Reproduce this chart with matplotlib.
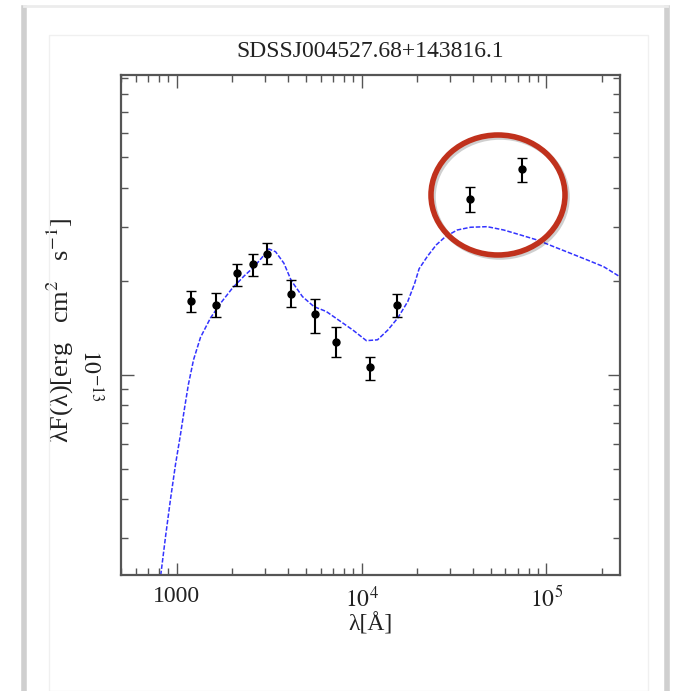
import matplotlib
matplotlib.use("Agg")
import matplotlib.pyplot as plt
from matplotlib.patches import Ellipse, Rectangle
from matplotlib.lines import Line2D
from matplotlib.ticker import FixedLocator, NullFormatter

plt.rcParams['font.family'] = 'serif'
plt.rcParams['font.serif'] = ['Liberation Serif', 'DejaVu Serif']
plt.rcParams['mathtext.fontset'] = 'stix'

title = 'SDSSJ004527.68+143816.1'

# photometric points (wavelength in Angstrom, lambda F_lambda)
wave = [1201, 1625, 2129, 2598, 3065, 4132, 5619, 7300, 11089, 15460, 38500, 74200]
flux = [1.729e-13, 1.679e-13, 2.123e-13, 2.270e-13, 2.449e-13, 1.828e-13,
        1.571e-13, 1.280e-13, 1.059e-13, 1.679e-13, 3.673e-13, 4.585e-13]
flux_lo = [1.597e-13, 1.533e-13, 1.932e-13, 2.086e-13, 2.270e-13, 1.651e-13,
           1.362e-13, 1.145e-13, 0.964e-13, 1.540e-13, 3.351e-13, 4.183e-13]
flux_hi = [1.863e-13, 1.831e-13, 2.270e-13, 2.449e-13, 2.652e-13, 2.013e-13,
           1.755e-13, 1.423e-13, 1.145e-13, 1.822e-13, 4.032e-13, 4.996e-13]

# model SED
model_wave = [820, 872, 927, 986, 1049, 1102, 1157, 1234, 1346, 1527,
              1752, 2000, 2311, 2617, 2905, 3155, 3428, 3802, 4170, 4790,
              5530, 6440, 7600, 8980, 10620, 12200, 13870, 15700, 17780, 19340,
              20480, 22760, 25400, 28450, 32920, 38840, 47800, 58760, 72350,
              89060, 109500, 134800, 165960, 204000, 251200]
model_flux = [2.275e-14, 3.05e-14, 4.01e-14, 5.17e-14, 6.45e-14, 7.80e-14,
              9.32e-14, 1.120e-13, 1.322e-13, 1.529e-13, 1.719e-13, 1.901e-13,
              2.078e-13, 2.224e-13, 2.392e-13, 2.541e-13, 2.490e-13, 2.287e-13,
              2.010e-13, 1.787e-13, 1.659e-13, 1.601e-13, 1.495e-13, 1.395e-13,
              1.290e-13, 1.298e-13, 1.395e-13, 1.525e-13, 1.723e-13, 1.963e-13,
              2.195e-13, 2.411e-13, 2.622e-13, 2.784e-13, 2.924e-13, 2.984e-13,
              2.997e-13, 2.924e-13, 2.819e-13, 2.716e-13, 2.585e-13, 2.462e-13,
              2.344e-13, 2.229e-13, 2.065e-13]

W, H = 682, 691
fig = plt.figure(figsize=(W / 100, H / 100), dpi=100)

# slide card look
fig.add_artist(Line2D([24 / W, 24 / W], [0, 1 - 8 / H], transform=fig.transFigure,
                      color='#cfcfcf', lw=4))
fig.add_artist(Line2D([667 / W, 667 / W], [0, 1 - 8 / H], transform=fig.transFigure,
                      color='#cfcfcf', lw=4))
fig.add_artist(Line2D([24 / W, 667 / W], [1 - 6 / H, 1 - 6 / H], transform=fig.transFigure,
                      color='#ececec', lw=2))
fig.add_artist(Rectangle((49 / W, 0), 599 / W, 1 - 35 / H, transform=fig.transFigure,
                         fill=False, ec='#f0f0f0', lw=1))

ax = fig.add_axes([121 / W, 1 - 575 / H, 499 / W, 500 / H])
ax.set_xscale('log')
ax.set_yscale('log')
ax.set_xlim(500, 2.5e5)
ax.set_ylim(2.28e-14, 9.2e-13)

ax.plot(model_wave, model_flux, color='#3333ff', lw=1.1, ls=(0, (3, 1.2)))

yerr = [[f - lo for f, lo in zip(flux, flux_lo)], [hi - f for f, hi in zip(flux, flux_hi)]]
ax.errorbar(wave, flux, yerr=yerr, fmt='o', color='black', ms=5, elinewidth=1.5,
            capsize=3.5, capthick=1)

for s in ax.spines.values():
    s.set_color('#555555')
    s.set_linewidth(1.6)

ax.xaxis.set_major_locator(FixedLocator([1000, 1e4, 1e5]))
ax.set_xticklabels(['1000', '$10^4$', '$10^5$'])
ax.xaxis.set_minor_formatter(NullFormatter())
ax.yaxis.set_major_locator(FixedLocator([1e-13]))
ax.set_yticklabels(['$10^{-13}$'], rotation=270, va='center')
ax.yaxis.set_minor_formatter(NullFormatter())
ax.tick_params(which='both', direction='in', top=True, right=True, color='#555555',
               labelsize=17, labelcolor='#222222')
ax.tick_params(which='major', length=9, width=1)
ax.tick_params(which='minor', length=5, width=1)
ax.tick_params(axis='x', pad=8)
ax.tick_params(axis='y', pad=13)

ax.set_title(title, fontsize=17, color='#222222', pad=13)
ax.set_xlabel('λ[Å]', fontsize=17, color='#222222', labelpad=1)
ax.set_ylabel('λF(λ)[erg   cm$^2$   s$^{-1}$]', fontsize=19, color='#222222')
ax.yaxis.set_label_coords(-0.09, 0.49)

# highlight around the infrared points
fig.add_artist(Ellipse((500 / W, 1 - 197 / H), 134 / W, 120 / H, transform=fig.transFigure,
                       fill=False, ec='#00000030', lw=4))
fig.add_artist(Ellipse((498 / W, 1 - 195 / H), 134 / W, 120 / H, transform=fig.transFigure,
                       fill=False, ec='#c0311c', lw=4))

fig.savefig('out.png', dpi=100)
